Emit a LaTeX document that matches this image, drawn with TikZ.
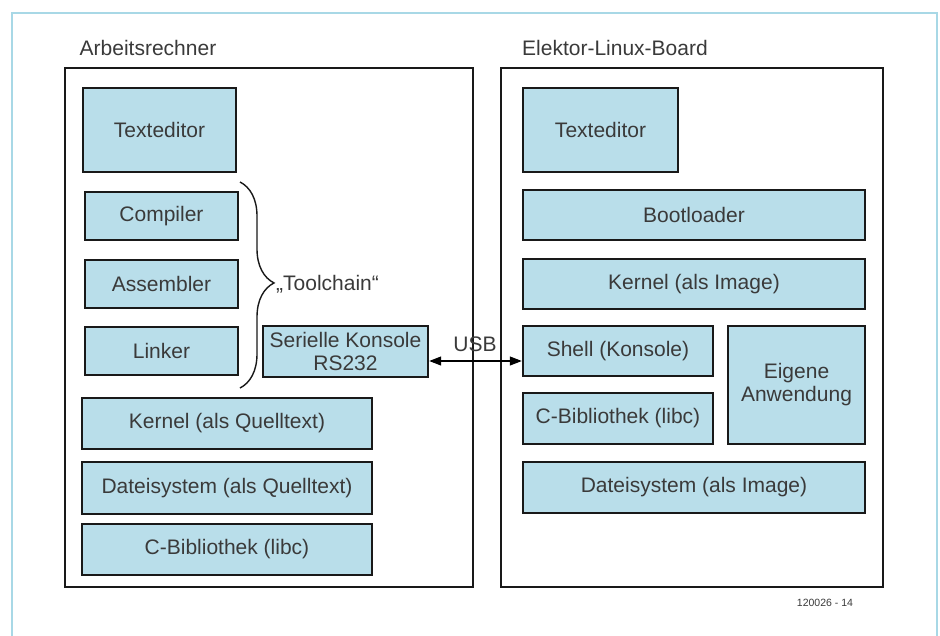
\documentclass[tikz,border=0pt]{standalone}
\usepackage{fontspec}
\setmainfont{Liberation Sans}
\usetikzlibrary{decorations.pathreplacing,arrows.meta}
\definecolor{boxfill}{HTML}{B9DEEA}
\definecolor{txt}{HTML}{3A3A3A}
\definecolor{frame}{HTML}{A8D8E6}
\tikzset{
  bx/.style={draw=black!90, line width=2.4pt, fill=boxfill, text=txt, font=\fontsize{21}{23}\selectfont, align=center, inner sep=0pt},
  lbl/.style={text=txt, font=\fontsize{21}{23}\selectfont, inner sep=0pt},
  big/.style={draw=black!90, line width=2.4pt},
}
\newcommand{\bxat}[6]{\node[bx, minimum width=#4-#2, minimum height=#5-#3] (#1) at ({(#2+#4)/2},{(#3+#5)/2}) {#6};}
\begin{document}
\begin{tikzpicture}[x=1pt,y=-1pt]
\useasboundingbox (0,0) rectangle (940,635);
\fill[white] (0,0) rectangle (940,635);
\draw[frame, line width=1.6pt] (12,660) -- (12,13) -- (937,13) -- (937,660);
% big containers
\draw[big] (65,68) rectangle (473,587);
\draw[big] (501,68) rectangle (883,587);
\node[lbl] (lA) at (148,48) {Arbeitsrechner};
\node[lbl] (lE) at (615,48) {Elektor-Linux-Board};
% left boxes
\bxat{te1}{83}{88}{236}{172}{Texteditor}
\bxat{comp}{85}{192}{238}{240}{Compiler}
\bxat{asm}{85}{260}{238}{308}{Assembler}
\bxat{link}{85}{327}{238}{375}{Linker}
\bxat{ser}{263}{326}{428}{377}{Serielle Konsole\\RS232}
\bxat{kq}{82}{398}{372}{449}{Kernel (als Quelltext)}
\bxat{dq}{82}{462}{372}{514}{Dateisystem (als Quelltext)}
\bxat{cb1}{82}{524}{372}{575}{C-Bibliothek (libc)}
% right boxes
\bxat{te2}{523}{88}{678}{172}{Texteditor}
\bxat{boot}{523}{190}{865}{240}{Bootloader}
\bxat{ki}{523}{259}{865}{309}{Kernel (als Image)}
\bxat{sh}{523}{326}{713}{376}{Shell (Konsole)}
\bxat{cb2}{523}{393}{713}{444}{C-Bibliothek (libc)}
\bxat{eig}{728}{326}{865}{444}{Eigene\\Anwendung}
\bxat{di}{523}{462}{865}{513}{Dateisystem (als Image)}
% brace
\coordinate (bt) at (240,182);
\coordinate (bb) at (240,388);
\draw[line width=1.4pt, black!90, decorate, decoration={brace, amplitude=34pt, aspect=0.49}] (bt) -- (bb);
\node[lbl, anchor=west] (tc) at (276,284) {„Toolchain“};
% USB arrow
\draw[line width=1.2pt, {Triangle[length=12pt,width=9pt]}-{Triangle[length=12pt,width=9pt]}] (ser.east |- 0,361) -- (sh.west |- 0,361);
\node[lbl] (usb) at (475,344) {USB};
\node[text=txt, font=\fontsize{10.5}{12}\selectfont, inner sep=0pt] (num) at (825,603) {120026 - 14};
\end{tikzpicture}
\end{document}
